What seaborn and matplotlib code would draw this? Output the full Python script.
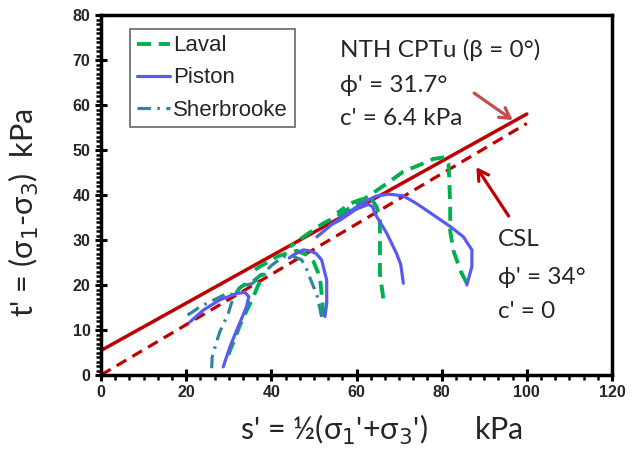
import matplotlib
matplotlib.use("Agg")
import matplotlib.pyplot as plt
from matplotlib.ticker import AutoMinorLocator
from matplotlib.lines import Line2D
import seaborn as sns
import pandas as pd

# ---------------- data ----------------
laval_a_s = [29.9, 31.3, 32.8, 34.3, 35.6, 36.8, 37.8, 38.3, 37.5, 36.0, 34.2, 32.5, 31.5]
laval_a_t = [4.5, 7.8, 11.5, 14.5, 17.0, 19.7, 21.5, 22.3, 22.2, 21.0, 20.4, 19.3, 17.8]
laval_b_s = [52.2, 52.2, 51.8, 51.4, 49.9, 48.3, 46.0, 43.5, 41.3, 39.0, 37.3, 35.5]
laval_b_t = [13.0, 13.7, 18.1, 21.8, 25.2, 26.7, 27.6, 27.0, 26.3, 25.0, 24.1, 23.0]
laval_c_s = [66.3, 65.5, 65.5, 65.5, 64.7, 63.5, 61.0, 58.5, 55.5]
laval_c_t = [17.0, 22.6, 30.0, 35.2, 37.4, 39.2, 39.0, 38.1, 36.0]
laval_d_s = [85.9, 84.5, 82.8, 82.0, 82.0, 81.8, 81.6, 80.8, 78.0, 74.9, 71.0, 67.5, 63.5, 60.0, 57.7, 55.3, 52.2, 48.0, 44.4]
laval_d_t = [20.4, 23.0, 27.5, 32.0, 37.4, 43.3, 47.0, 48.4, 48.0, 46.7, 45.2, 42.8, 40.2, 38.0, 36.7, 35.2, 33.7, 31.0, 28.5]

piston_a_s = [28.7, 30.3, 32.2, 34.2, 34.7, 33.8, 31.9, 27.9, 24.0, 20.9]
piston_a_t = [1.8, 6.3, 10.7, 15.2, 17.4, 18.4, 18.1, 16.7, 14.4, 11.8]
piston_b_s = [52.6, 53.0, 53.0, 51.8, 50.5, 49.0, 47.5, 45.2, 44.2]
piston_b_t = [13.0, 15.9, 21.1, 25.6, 27.0, 27.6, 27.8, 26.7, 26.0]
piston_c_s = [71.0, 70.4, 69.4, 67.1, 64.3, 63.8, 62.8, 60.0, 56.1, 53.8]
piston_c_t = [20.4, 24.5, 27.0, 31.5, 35.9, 37.4, 37.9, 36.9, 34.4, 33.3]
piston_d_s = [85.9, 87.1, 87.1, 85.1, 82.0, 78.0, 74.1, 71.0, 67.5, 64.5, 61.6, 57.5, 54.0, 50.7]
piston_d_t = [20.0, 24.1, 27.8, 30.7, 33.0, 35.6, 38.1, 39.8, 40.2, 39.7, 38.3, 35.8, 33.3, 30.7]

sher_a_s = [26.0, 26.1, 26.8, 27.9, 29.9, 30.8, 31.0, 29.8, 27.2, 25.0, 23.3, 21.5, 19.7]
sher_a_t = [1.5, 4.0, 6.3, 9.6, 13.7, 16.5, 17.8, 18.2, 17.0, 16.0, 15.2, 14.0, 13.0]
sher_b_s = [51.8, 51.4, 50.7, 49.1, 48.3, 47.1, 45.0, 42.8, 40.1, 37.5, 35.5, 33.0]
sher_b_t = [12.9, 14.8, 17.8, 21.5, 23.5, 25.6, 26.4, 26.3, 24.4, 22.0, 20.3, 19.8]

fit_s = [0, 100]
nth_t = [5.45, 58.0]
csl_t = [0.0, 55.9]

x_ticks = [0, 20, 40, 60, 80, 100, 120]
y_ticks = [0, 10, 20, 30, 40, 50, 60, 70, 80]

# ---------------- style ----------------
sns.set_theme(style="white")
plt.rcParams['font.family'] = ['Liberation Sans', 'DejaVu Sans']

GREEN = '#00B050'
BLUE = '#5A5AF0'
TEAL = '#31859C'
RED = '#C00000'
ARROW1 = '#C0504D'

fig = plt.figure(figsize=(6.35, 4.57), dpi=100)
ax = fig.add_axes([101/635, 1-375/457, (612-101)/635, (375-15)/457])

def draw(s, t, color, lw, dashes=None, z=3):
    df = pd.DataFrame({'s': s, 't': t})
    sns.lineplot(data=df, x='s', y='t', sort=False, estimator=None, ax=ax,
                 color=color, lw=lw, zorder=z)
    line = ax.lines[-1]
    if dashes is not None:
        line.set_dashes(dashes)
    return line

# fit lines
draw(fit_s, nth_t, RED, 2.5, z=2)
draw(fit_s, csl_t, RED, 2.3, dashes=(3.5, 2.2), z=2)

lav_d = (3.6, 2.0)
sh_d = (4.2, 2.0, 0.8, 2.0)
for s, t in [(laval_a_s, laval_a_t), (laval_b_s, laval_b_t), (laval_c_s, laval_c_t), (laval_d_s, laval_d_t)]:
    draw(s, t, GREEN, 2.8, dashes=lav_d)
for s, t in [(piston_a_s, piston_a_t), (piston_b_s, piston_b_t), (piston_c_s, piston_c_t), (piston_d_s, piston_d_t)]:
    draw(s, t, BLUE, 2.3)
for s, t in [(sher_a_s, sher_a_t), (sher_b_s, sher_b_t)]:
    draw(s, t, TEAL, 2.3, dashes=sh_d)

ax.set_xlim(0, 120)
ax.set_ylim(0, 80)
ax.set_xticks(x_ticks)
ax.set_yticks(y_ticks)
ax.set_xticklabels([str(v) for v in x_ticks], fontweight='bold', fontsize=11.5)
ax.set_yticklabels([str(v) for v in y_ticks], fontweight='bold', fontsize=11.5)
ax.xaxis.set_minor_locator(AutoMinorLocator(6))
ax.yaxis.set_minor_locator(AutoMinorLocator(10))
ax.tick_params(axis='both', which='major', direction='inout', length=9, width=2.2,
               color='black', pad=3)
ax.tick_params(axis='both', which='minor', direction='out', length=3.5, width=1.8, color='black')
ax.tick_params(axis='x', which='both', bottom=True)
ax.tick_params(axis='y', which='both', left=True)
for sp in ax.spines.values():
    sp.set_color('black')
    sp.set_linewidth(2.5)

tfont = ['Lato', 'DejaVu Sans']
ax.set_xlabel("s' = ½(σ$_1$'+σ$_3$')      kPa", family=tfont, fontsize=22, labelpad=6)
ax.xaxis.label.set_horizontalalignment('left')
ax.xaxis.set_label_coords(0.272, -0.105, transform=ax.transAxes)
ax.xaxis.label.set_verticalalignment('top')
ax.set_ylabel("t' = (σ$_1$-σ$_3$)  kPa", family=tfont, fontsize=22, labelpad=4)
ax.yaxis.set_label_coords(-0.118, 0.45, transform=ax.transAxes)

# legend
handles = [Line2D([], [], color=GREEN, lw=2.8, dashes=lav_d),
           Line2D([], [], color=BLUE, lw=2.3),
           Line2D([], [], color=TEAL, lw=2.3, dashes=sh_d)]
leg = ax.legend(handles, ['Laval', 'Piston', 'Sherbrooke'], loc='upper left',
                bbox_to_anchor=(0.057, 0.962), fontsize=16, frameon=True, fancybox=False,
                handlelength=1.5, handletextpad=0.15, borderpad=0.3, labelspacing=0.5,
                borderaxespad=0)
leg.get_frame().set_edgecolor('#404040')
leg.get_frame().set_linewidth(1.2)

# annotations
fs = 17.5
ax.text(56.1, 72.2, "NTH CPTu (β = 0°)", family=tfont, fontsize=fs, va='center', ha='left')
ax.text(56.1, 64.4, "ϕ' = 31.7°", family=tfont, fontsize=fs, va='center', ha='left')
ax.text(56.1, 57.1, "c' = 6.4 kPa", family=tfont, fontsize=fs, va='center', ha='left')
ax.text(93.2, 30.0, "CSL", family=tfont, fontsize=fs, va='center', ha='left')
ax.text(93.2, 21.6, "ϕ' = 34°", family=tfont, fontsize=fs, va='center', ha='left')
ax.text(93.2, 14.0, "c' = 0", family=tfont, fontsize=fs, va='center', ha='left')

ax.annotate('', xy=(97.2, 56.3), xytext=(87.1, 63.0),
            arrowprops=dict(arrowstyle='->,head_length=0.6,head_width=0.35', color=ARROW1, lw=2.3))
ax.annotate('', xy=(87.8, 46.7), xytext=(96.1, 34.8),
            arrowprops=dict(arrowstyle='->,head_length=0.6,head_width=0.35', color=RED, lw=2.3))

fig.savefig('out.png', dpi=100, facecolor='white')
